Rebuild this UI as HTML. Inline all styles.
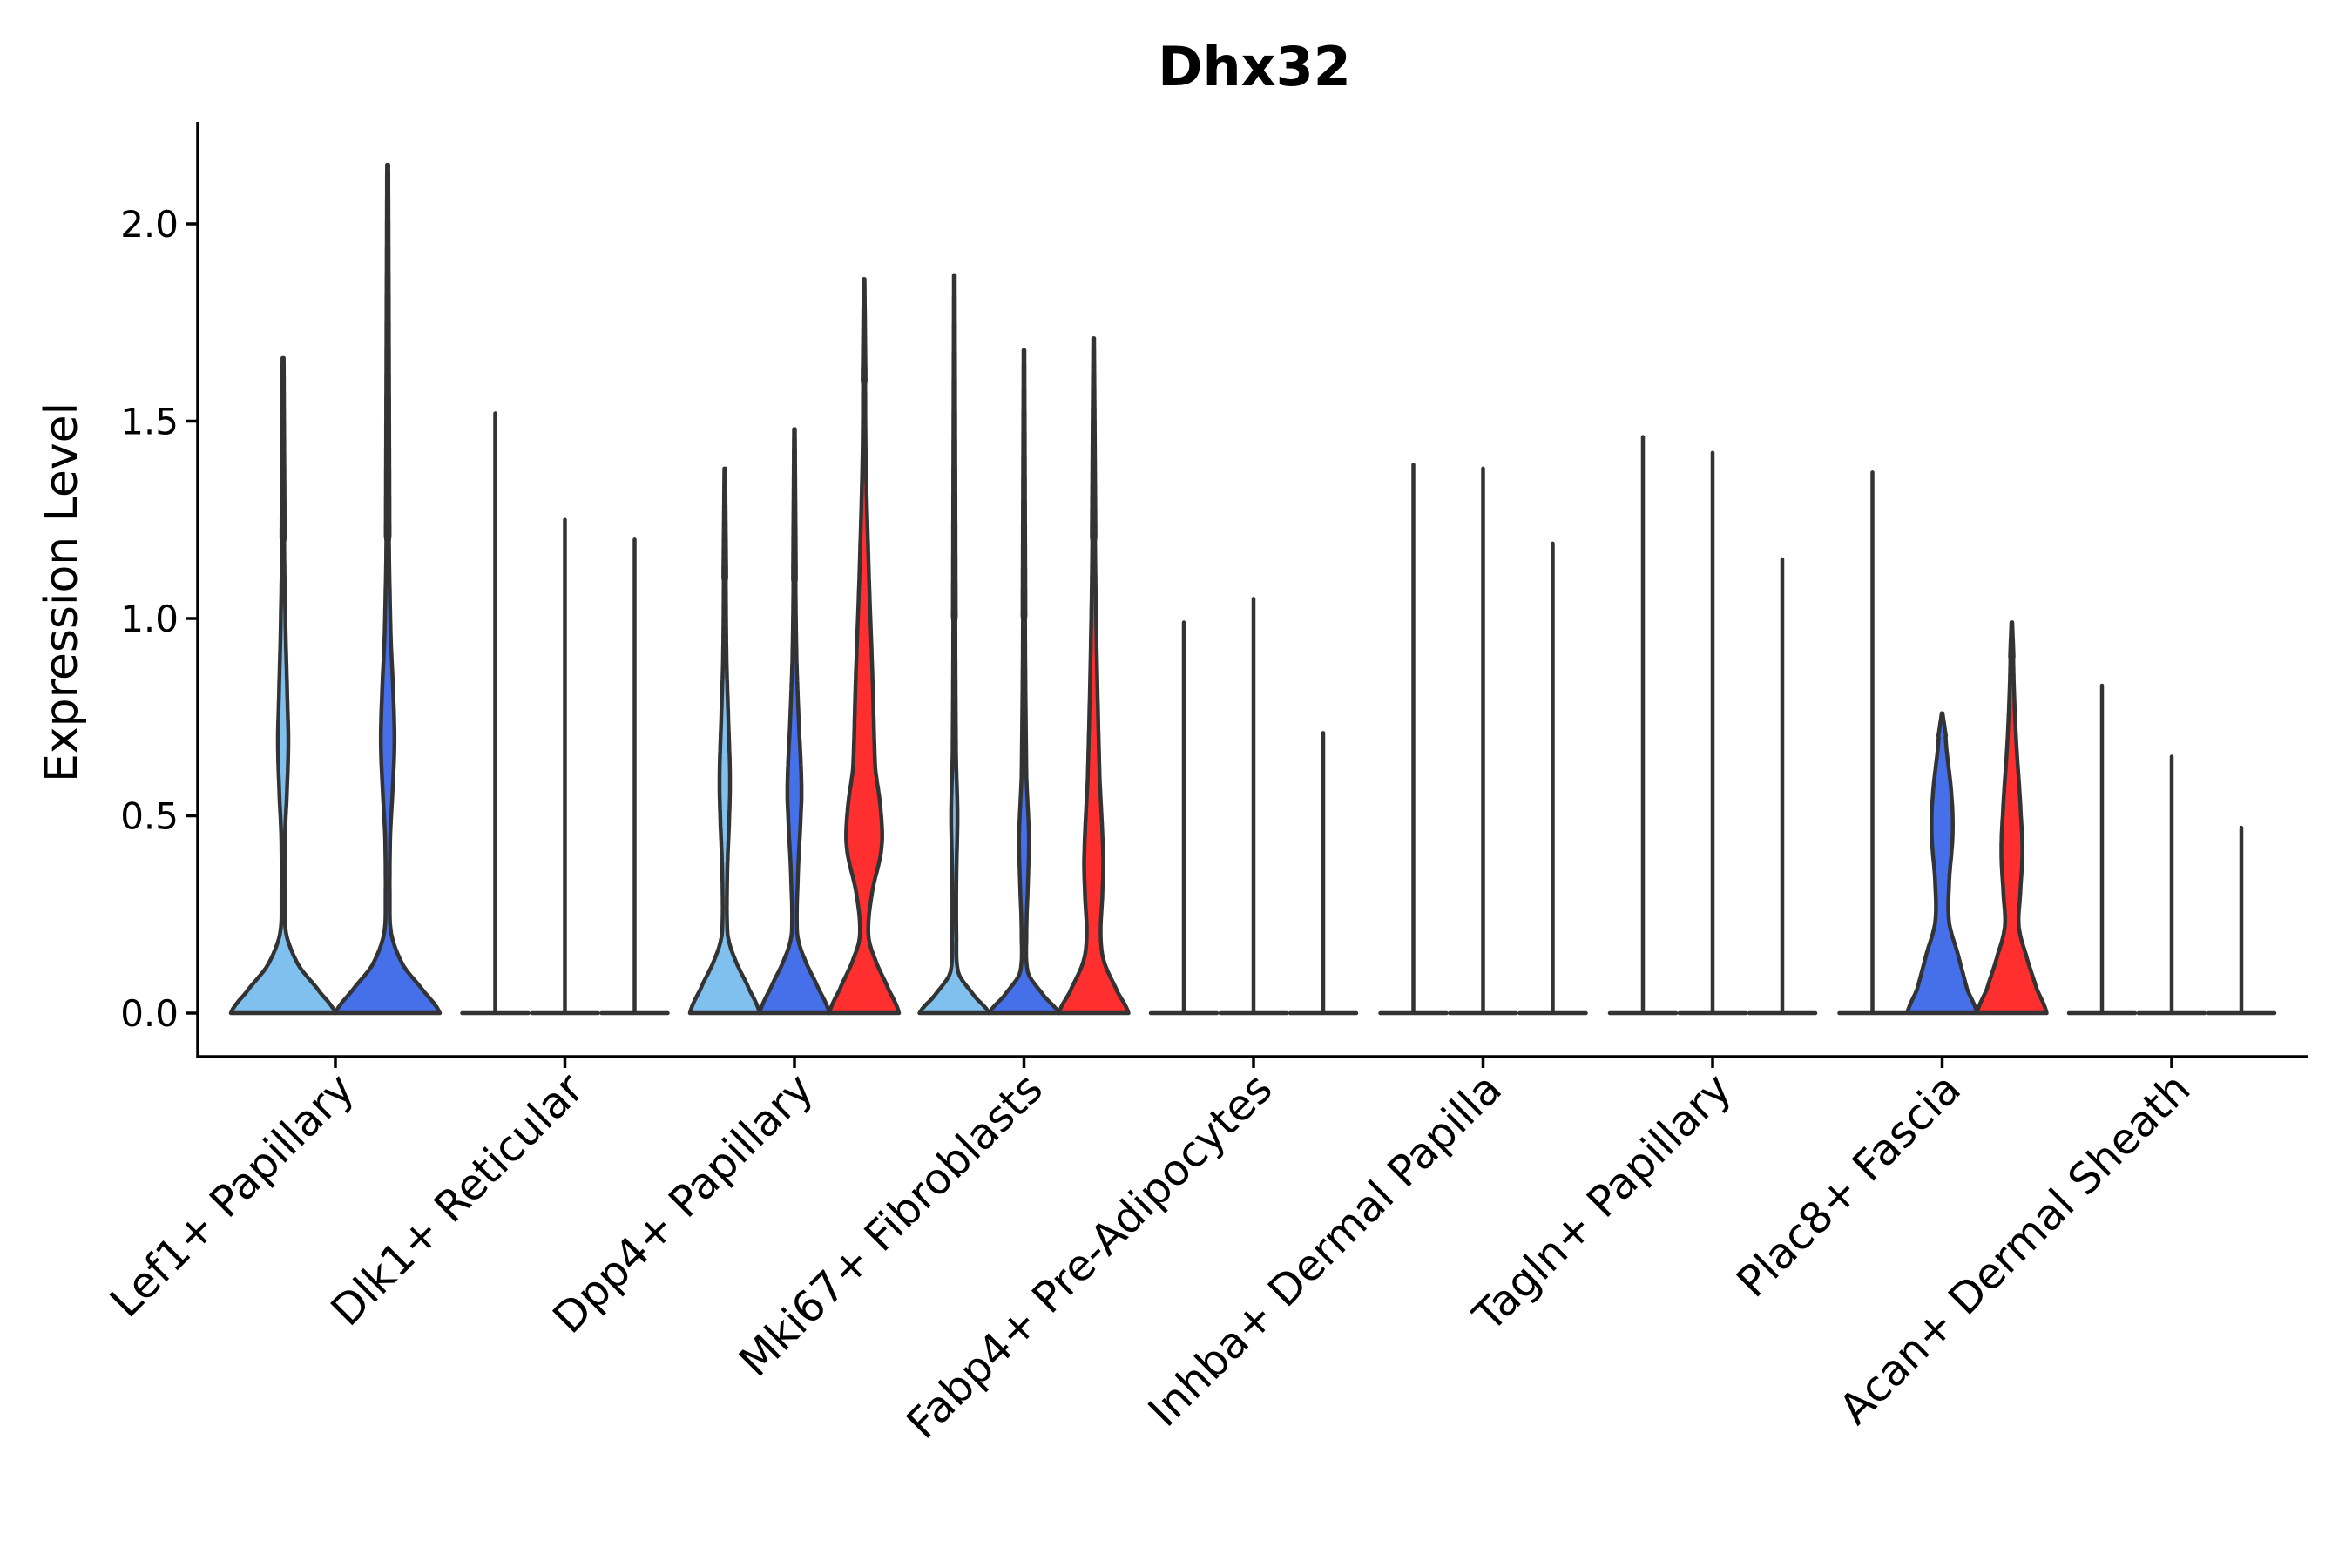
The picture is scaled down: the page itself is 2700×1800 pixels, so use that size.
<!DOCTYPE html>
<html><head><meta charset="utf-8"><style>
html,body{margin:0;padding:0;background:#fff;}
svg{display:block;font-family:"DejaVu Sans","Liberation Sans",sans-serif;}
</style></head><body>
<svg id="chart" width="2700" height="1800" viewBox="0 0 2700 1800" xmlns="http://www.w3.org/2000/svg">
<rect width="2700" height="1800" fill="#fff"/>
<text x="1440" y="98" text-anchor="middle" font-size="62" font-weight="bold" fill="#000">Dhx32</text>
<text transform="translate(88,680) rotate(-90)" text-anchor="middle" font-size="52" fill="#000">Expression Level</text>
<g id="plot"></g>
</svg>
<script>
const categories = ["Lef1+ Papillary","Dlk1+ Reticular","Dpp4+ Papillary","Mki67+ Fibroblasts","Fabp4+ Pre-Adipocytes","Inhba+ Dermal Papilla","Tagln+ Papillary","Plac8+ Fascia","Acan+ Dermal Sheath"];
const groupsPerCategory = [[0,1],[0,1,2],[0,1,2],[0,1,2],[0,1,2],[0,1,2],[0,1,2],[0,1,2],[0,1,2]];
const maxValues = [[1.66,2.15],[1.52,1.25,1.2],[1.38,1.48,1.86],[1.87,1.68,1.71],[0.99,1.05,0.71],[1.39,1.38,1.19],[1.46,1.42,1.15],[1.37,0.76,0.99],[0.83,0.65,0.47]];
const FLAT = [[0,1],[0.001,0.01]];
const densityProfiles = [
 [ [[0,1],[0.05,0.72],[0.12,0.3],[0.2,0.06],[0.3,0.03],[0.45,0.035],[0.55,0.07],[0.68,0.1],[0.8,0.08],[0.95,0.05],[1.2,0.02]],
   [[0,1],[0.05,0.72],[0.12,0.3],[0.2,0.07],[0.3,0.04],[0.45,0.05],[0.55,0.09],[0.68,0.13],[0.8,0.11],[0.95,0.06],[1.2,0.025]] ],
 [FLAT,FLAT,FLAT],
 [ [[0,1],[0.06,0.7],[0.14,0.28],[0.2,0.08],[0.35,0.07],[0.5,0.13],[0.6,0.15],[0.75,0.1],[0.9,0.05],[1.1,0.03]],
   [[0,1],[0.06,0.7],[0.14,0.28],[0.2,0.08],[0.35,0.1],[0.5,0.18],[0.58,0.2],[0.75,0.12],[0.9,0.06],[1.1,0.03]],
   [[0,1],[0.06,0.7],[0.14,0.3],[0.2,0.12],[0.3,0.22],[0.42,0.5],[0.52,0.47],[0.62,0.32],[0.85,0.24],[1.1,0.14],[1.4,0.05],[1.6,0.03]] ],
 [ [[0,1],[0.04,0.6],[0.1,0.12],[0.2,0.06],[0.35,0.06],[0.5,0.09],[0.65,0.05],[1.0,0.03]],
   [[0,1],[0.04,0.6],[0.1,0.12],[0.2,0.07],[0.35,0.12],[0.45,0.14],[0.6,0.07],[1.0,0.03]],
   [[0,1],[0.05,0.7],[0.13,0.3],[0.2,0.2],[0.3,0.25],[0.4,0.27],[0.6,0.17],[0.9,0.09],[1.2,0.04]] ],
 [FLAT,FLAT,FLAT],
 [FLAT,FLAT,FLAT],
 [FLAT,FLAT,FLAT],
 [ FLAT,
   [[0,1],[0.06,0.72],[0.15,0.45],[0.23,0.2],[0.33,0.2],[0.45,0.3],[0.55,0.27],[0.7,0.1]],
   [[0,1],[0.06,0.72],[0.15,0.4],[0.22,0.2],[0.3,0.24],[0.4,0.3],[0.5,0.26],[0.7,0.12],[0.9,0.04]] ],
 [FLAT,FLAT,FLAT]
];
const yTicks = [0,0.5,1.0,1.5,2.0];
const yTickLabels = ["0.0","0.5","1.0","1.5","2.0"];
const colors = ["#80C0EE","#4570EA","#FF2F2F"];

const NS="http://www.w3.org/2000/svg";
const plot=document.getElementById('plot');
const X0=227, X1=2650, AXY=1213;
const yScale=v=>1163-v*453;
const xCenter=i=>385+i*263.5;
const groupW=240;
function mk(tag,attrs){const e=document.createElementNS(NS,tag);for(const k in attrs)e.setAttribute(k,attrs[k]);plot.appendChild(e);return e;}

function interp(knots,v){
  if(v<=knots[0][0])return knots[0][1];
  for(let i=0;i<knots.length-1;i++){
    const a=knots[i],b=knots[i+1];
    if(v<=b[0]){
      const p0=knots[Math.max(0,i-1)],p3=knots[Math.min(knots.length-1,i+2)];
      const t=(v-a[0])/(b[0]-a[0]);
      const m1=(b[1]-p0[1])/2,m2=(p3[1]-a[1])/2;
      const t2=t*t,t3=t2*t;
      const r=(2*t3-3*t2+1)*a[1]+(t3-2*t2+t)*m1+(-2*t3+3*t2)*b[1]+(t3-t2)*m2;
      return Math.max(r,0.012);
    }
  }
  return knots[knots.length-1][1];
}

categories.forEach((cat,ci)=>{
  const groups=groupsPerCategory[ci];
  const n=groups.length, slot=groupW/n;
  groups.forEach((g,gi)=>{
    const cx=xCenter(ci)+(gi-(n-1)/2)*slot;
    const maxV=maxValues[ci][gi];
    const knots=densityProfiles[ci][gi];
    const hwMax=slot/2;
    const nm='violin-'+cat.toLowerCase().replace(/[^a-z0-9]+/g,'-')+'-group'+(g+1);
    if(knots===FLAT){
      const d="M"+(cx-hwMax+2)+","+yScale(0)+"L"+(cx+hwMax-2)+","+yScale(0)+"M"+cx+","+yScale(0)+"L"+cx+","+yScale(maxV);
      const p=mk('path',{d:d,fill:"none",stroke:"#333","stroke-width":"4.5","stroke-linecap":"round"});
      
      
      return;
    }
    const N=160;
    const right=[],left=[];
    const lastK=knots[knots.length-1];
    for(let k=0;k<=N;k++){
      const v=maxV*k/N;
      let w;
      if(v<=lastK[0]) w=interp(knots,v);
      else w=Math.max(lastK[1]*(1-(v-lastK[0])/(maxV-lastK[0]+1e-9))+0.012,0.012);
      if(k===N) w=0.012;
      const hw=w*hwMax;
      right.push([cx+hw,yScale(v)]);
      left.push([cx-hw,yScale(v)]);
    }
    let d="M"+left[0][0].toFixed(1)+","+left[0][1].toFixed(1);
    right.forEach(p=>d+="L"+p[0].toFixed(1)+","+p[1].toFixed(1));
    for(let k=left.length-1;k>=0;k--)d+="L"+left[k][0].toFixed(1)+","+left[k][1].toFixed(1);
    d+="Z";
    const p=mk('path',{d:d,fill:colors[g],stroke:"#333","stroke-width":"4.5","stroke-linejoin":"round"});
    
    
  });
});

const ya=mk('line',{x1:X0,y1:140,x2:X0,y2:AXY+1.5,stroke:"#000","stroke-width":"3.5"});


const xa=mk('line',{x1:X0-1.5,y1:AXY,x2:X1,y2:AXY,stroke:"#000","stroke-width":"3.5"});



yTicks.forEach((v,i)=>{
  const y=yScale(v);
  const t=mk('line',{x1:X0-13,y1:y,x2:X0,y2:y,stroke:"#000","stroke-width":"3.5"});
  
  
  const l=mk('text',{x:X0-22,y:y+15,"text-anchor":"end","font-size":"42",fill:"#000"});
  l.textContent=yTickLabels[i];
  
  
});

categories.forEach((cat,ci)=>{
  const x=xCenter(ci);
  const t=mk('line',{x1:x,y1:AXY,x2:x,y2:AXY+13,stroke:"#000","stroke-width":"3.5"});
  
  
  const l=mk('text',{transform:"translate("+(x+24)+","+(AXY+40)+") rotate(-45)","text-anchor":"end","font-size":"49",fill:"#000"});
  l.textContent=cat;
  
  
});
</script>
</body></html>
